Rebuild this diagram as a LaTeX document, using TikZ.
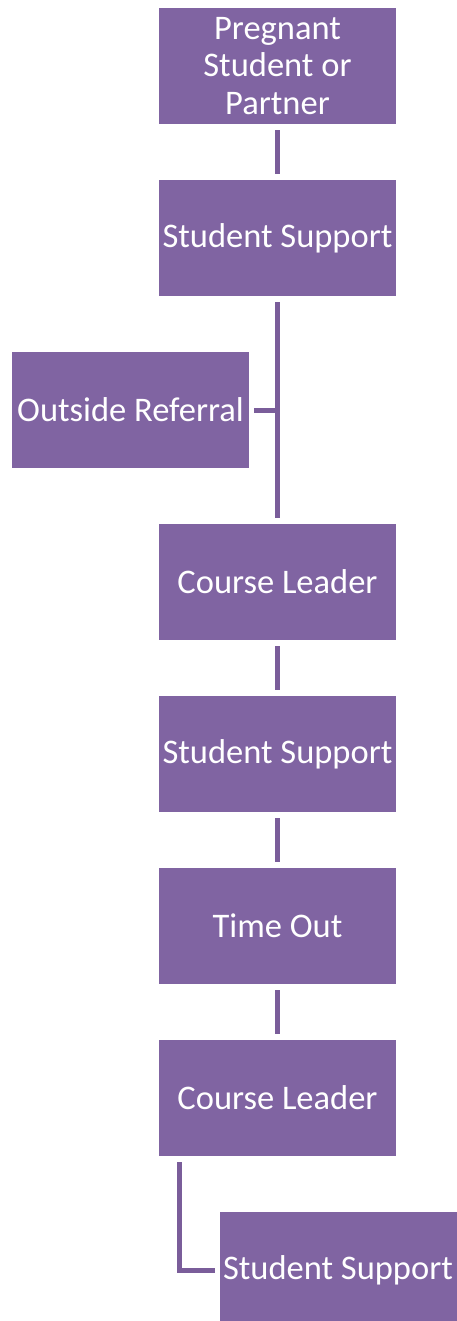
\documentclass[tikz,border=0pt]{standalone}
\usepackage{fontspec}
\setmainfont{Carlito}
\usepackage{tikz}
\usetikzlibrary{calc}

\definecolor{boxpurple}{HTML}{8064A2}
\definecolor{linepurple}{HTML}{7A5D9A}

\tikzset{
  stage/.style={rectangle,fill=boxpurple,text=white,inner sep=0pt,
    minimum width=237pt,minimum height=116pt,align=center,
    font=\fontsize{34.5}{37.5}\selectfont},
  link/.style={draw=linepurple,line width=5pt,shorten <=6pt,shorten >=6pt}
}

\begin{document}
\begin{tikzpicture}[x=1pt,y=-1pt]
\useasboundingbox (0,0) rectangle (457,1321);
\clip (0,0) rectangle (457,1321);

\node[stage] (pregnant) at (277.5,66) {Pregnant\\Student or\\Partner};
\node[stage] (support1) at (277.5,238) {Student Support};
\node[stage] (referral) at (130.5,410) {Outside Referral};
\node[stage] (leader1) at (277.5,582) {Course Leader};
\node[stage] (support2) at (277.5,754) {Student Support};
\node[stage] (timeout) at (277.5,926) {Time Out};
\node[stage] (leader2) at (277.5,1098) {Course Leader};
\node[stage] (support3) at (338,1270) {Student Support};

\draw[link] (pregnant) -- (support1);
\draw[link] (support1) -- (leader1);
\draw[link,shorten <=0pt,shorten >=5pt] (support1.south |- referral.east) -- (referral.east);
\draw[link] (leader1) -- (support2);
\draw[link] (support2) -- (timeout);
\draw[link] (timeout) -- (leader2);
\draw[link,shorten >=4pt] ($(leader2.south west)+(21,0)$) |- (support3.west);
\end{tikzpicture}
\end{document}
